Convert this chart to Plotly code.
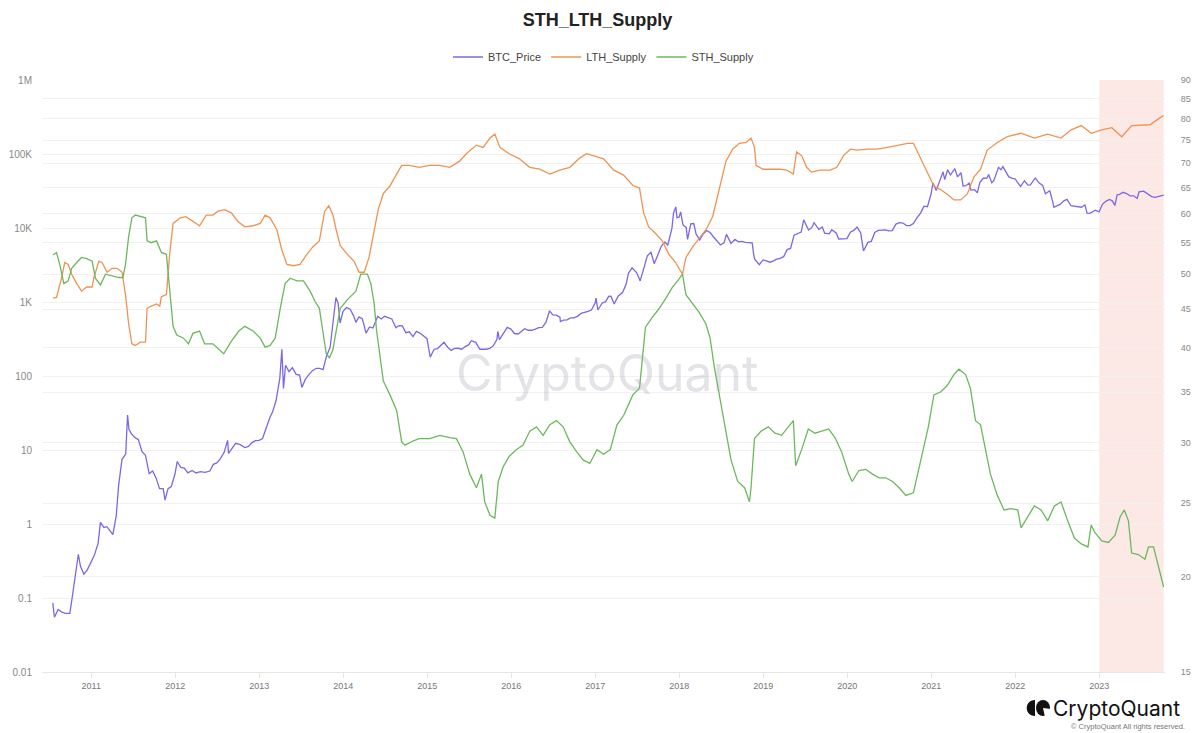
import plotly.graph_objects as go

# ---------------- data ----------------
price_dates = ["2010-07-18","2010-07-25","2010-08-10","2010-08-25","2010-09-10","2010-09-30","2010-10-10","2010-10-25","2010-11-06","2010-11-15","2010-11-30","2010-12-15","2010-12-31",
"2011-01-15","2011-01-31","2011-02-10","2011-02-25","2011-03-10","2011-03-25","2011-04-05","2011-04-20","2011-04-30","2011-05-15","2011-05-31","2011-06-08","2011-06-14","2011-06-25","2011-07-10","2011-07-25","2011-08-10","2011-08-25","2011-09-10","2011-09-25","2011-10-10","2011-10-25","2011-11-10","2011-11-18","2011-12-01","2011-12-15","2011-12-31",
"2012-01-10","2012-01-25","2012-02-10","2012-02-25","2012-03-15","2012-04-01","2012-04-20","2012-05-10","2012-05-31","2012-06-15","2012-06-30","2012-07-15","2012-08-01","2012-08-16","2012-08-20","2012-09-05","2012-09-20","2012-10-10","2012-10-30","2012-11-15","2012-11-30","2012-12-15","2012-12-31",
"2013-01-15","2013-01-31","2013-02-15","2013-02-28","2013-03-15","2013-03-31","2013-04-09","2013-04-16","2013-04-25","2013-05-10","2013-05-25","2013-06-10","2013-06-25","2013-07-05","2013-07-20","2013-08-05","2013-08-20","2013-09-05","2013-09-20","2013-10-05","2013-10-20","2013-11-05","2013-11-18","2013-11-30","2013-12-10","2013-12-18","2013-12-31",
"2014-01-15","2014-01-31","2014-02-15","2014-02-25","2014-03-10","2014-03-25","2014-04-10","2014-04-25","2014-05-10","2014-05-31","2014-06-15","2014-06-30","2014-07-15","2014-07-31","2014-08-18","2014-08-31","2014-09-15","2014-09-30","2014-10-15","2014-10-31","2014-11-15","2014-11-30","2014-12-15","2014-12-31",
"2015-01-14","2015-01-31","2015-02-15","2015-02-28","2015-03-15","2015-03-31","2015-04-15","2015-04-30","2015-05-15","2015-05-31","2015-06-15","2015-06-30","2015-07-12","2015-07-31","2015-08-18","2015-08-31","2015-09-15","2015-09-30","2015-10-15","2015-10-31","2015-11-04","2015-11-11","2015-11-25","2015-12-15","2015-12-31",
"2016-01-15","2016-01-31","2016-02-15","2016-02-29","2016-03-15","2016-03-31","2016-04-15","2016-04-30","2016-05-15","2016-05-31","2016-06-16","2016-06-30","2016-07-15","2016-07-31","2016-08-02","2016-08-15","2016-08-31","2016-09-15","2016-09-30","2016-10-15","2016-10-31","2016-11-15","2016-11-30","2016-12-15","2016-12-31",
"2017-01-04","2017-01-12","2017-01-31","2017-02-15","2017-02-28","2017-03-10","2017-03-24","2017-04-10","2017-04-30","2017-05-15","2017-05-25","2017-06-10","2017-06-30","2017-07-15","2017-07-31","2017-08-15","2017-08-31","2017-09-14","2017-09-30","2017-10-15","2017-10-31","2017-11-12","2017-11-30","2017-12-07","2017-12-17","2017-12-22","2017-12-31",
"2018-01-07","2018-01-17","2018-01-31","2018-02-06","2018-02-20","2018-03-05","2018-03-15","2018-03-31","2018-04-15","2018-04-30","2018-05-15","2018-05-31","2018-06-15","2018-06-29","2018-07-15","2018-07-25","2018-08-14","2018-08-31","2018-09-15","2018-09-30","2018-10-15","2018-10-31","2018-11-14","2018-11-20","2018-11-25","2018-12-15","2018-12-31",
"2019-01-15","2019-01-31","2019-02-15","2019-02-28","2019-03-15","2019-03-31","2019-04-15","2019-04-30","2019-05-15","2019-05-31","2019-06-15","2019-06-26","2019-07-05","2019-07-17","2019-07-31","2019-08-10","2019-08-31","2019-09-15","2019-09-25","2019-10-15","2019-10-26","2019-11-15","2019-11-25","2019-12-15","2019-12-31",
"2020-01-15","2020-01-31","2020-02-13","2020-02-29","2020-03-12","2020-03-31","2020-04-15","2020-04-30","2020-05-15","2020-05-31","2020-06-15","2020-06-30","2020-07-15","2020-07-31","2020-08-15","2020-08-31","2020-09-15","2020-09-30","2020-10-15","2020-10-31","2020-11-15","2020-11-30","2020-12-15","2020-12-31",
"2021-01-08","2021-01-22","2021-02-08","2021-02-21","2021-02-28","2021-03-13","2021-03-25","2021-04-13","2021-04-25","2021-05-10","2021-05-19","2021-05-31","2021-06-15","2021-06-22","2021-07-08","2021-07-20","2021-07-31","2021-08-15","2021-08-31","2021-09-07","2021-09-21","2021-09-30","2021-10-20","2021-10-31","2021-11-08","2021-11-20","2021-12-04","2021-12-20","2021-12-31",
"2022-01-10","2022-01-24","2022-02-10","2022-02-24","2022-03-07","2022-03-29","2022-04-15","2022-04-30","2022-05-12","2022-05-31","2022-06-13","2022-06-18","2022-06-30","2022-07-15","2022-07-31","2022-08-14","2022-08-31","2022-09-15","2022-09-30","2022-10-15","2022-10-31","2022-11-09","2022-11-21","2022-12-15","2022-12-31",
"2023-01-15","2023-01-31","2023-02-15","2023-02-28","2023-03-10","2023-03-20","2023-03-31","2023-04-14","2023-04-30","2023-05-15","2023-05-31","2023-06-15","2023-06-23","2023-07-13","2023-07-31","2023-08-17","2023-08-31","2023-09-15","2023-09-30","2023-10-08"]
btc_price = [0.086,0.055,0.07,0.065,0.062,0.062,0.1,0.2,0.39,0.27,0.21,0.24,0.3,
0.38,0.55,1.05,0.9,0.92,0.8,0.72,1.3,3.3,7.5,8.8,29.6,19,16.5,14.8,13.8,9.5,8.5,4.8,5.2,4.2,3.0,3.0,2.1,3.0,3.2,4.7,
7.0,5.8,5.7,4.9,5.3,4.9,5.1,5.0,5.2,6.4,6.7,7.6,9.3,13.5,9.0,10.8,12.3,11.8,10.8,11.2,12.6,13.4,13.5,
14.3,20,27,33,47,93,230,68,140,115,130,105,103,70,90,105,118,127,127,122,185,245,600,1150,950,520,750,
840,800,650,530,630,590,380,460,445,640,590,640,620,590,450,480,475,385,395,340,400,380,350,320,
180,230,235,255,285,245,222,236,237,230,250,263,300,285,230,230,230,236,255,310,400,310,370,455,430,
375,370,400,435,415,415,430,450,455,530,760,670,665,625,545,570,575,610,610,640,700,715,745,780,965,
1130,780,970,1010,1190,1195,940,1200,1350,1750,2450,2900,2480,1930,2870,4200,4700,3300,4340,5700,6450,5850,9900,16000,19300,13800,14000,
16500,11000,10200,7000,11400,11500,8300,6900,8300,9250,8700,7500,6500,5900,6350,8200,6200,7000,6500,6600,6400,6300,6300,4500,3800,3200,3700,
3600,3450,3600,3800,3900,4100,5100,5300,8000,8500,8800,12900,11000,9400,10100,11800,9600,10300,8500,8350,9500,8500,7100,7100,7200,
8800,9350,10300,8550,4900,6400,6600,8700,9300,9450,9450,9140,9200,11300,11800,11650,10800,10800,11500,13800,15900,19700,19400,29000,
40700,32000,46400,57500,45000,61200,52000,63500,49000,56000,37000,37300,40500,32500,33000,29800,41500,47000,47100,52700,40700,43800,66000,61300,67500,59000,49000,46700,46300,
41800,36500,43500,38300,38000,47400,40500,37700,29000,31800,22500,19000,19900,20800,23300,24400,20000,19700,19400,19100,20500,15900,15800,17400,16500,
20900,23100,24300,23100,20100,28000,28500,30400,29200,27200,27200,25100,30700,31400,29200,26600,25900,26600,27000,27900]

lth_dates = ["2010-07-19","2010-08-03","2010-08-25","2010-09-08","2010-09-23","2010-10-08","2010-10-30","2010-11-20","2010-12-12",
"2011-01-05","2011-01-12","2011-02-03","2011-02-17","2011-03-11","2011-04-02","2011-04-23","2011-05-15","2011-05-30","2011-06-13","2011-06-27","2011-07-12","2011-08-03","2011-08-25","2011-09-01","2011-09-19","2011-10-12","2011-10-26","2011-11-02","2011-11-24","2011-12-08","2011-12-23",
"2012-01-23","2012-02-17","2012-03-18","2012-04-16","2012-05-15","2012-06-13","2012-07-05","2012-08-03","2012-09-01","2012-10-01","2012-10-30","2012-12-05",
"2013-01-05","2013-01-26","2013-02-17","2013-03-18","2013-04-09","2013-05-01","2013-05-30","2013-06-27","2013-07-23","2013-08-21","2013-09-19","2013-10-12","2013-10-30","2013-11-17","2013-12-01","2013-12-19",
"2014-01-19","2014-02-17","2014-03-11","2014-04-02","2014-04-23","2014-05-15","2014-06-02","2014-06-24","2014-07-23","2014-08-21","2014-09-12","2014-10-15","2014-11-27",
"2015-01-12","2015-02-25","2015-04-09","2015-05-22","2015-06-20","2015-08-03","2015-09-01","2015-10-01","2015-10-22","2015-11-13","2015-12-23",
"2016-02-06","2016-03-22","2016-05-04","2016-06-17","2016-07-30","2016-09-12","2016-10-26","2016-11-24","2016-12-23",
"2017-02-06","2017-03-22","2017-05-04","2017-06-13","2017-07-12","2017-07-30","2017-08-21","2017-09-19","2017-10-19","2017-11-17","2017-12-16",
"2018-01-15","2018-01-30","2018-02-28","2018-03-29","2018-04-27","2018-05-26","2018-06-24","2018-07-23","2018-08-21","2018-09-19","2018-10-19","2018-11-09","2018-11-24","2018-12-01","2018-12-31",
"2019-01-30","2019-03-14","2019-04-13","2019-05-12","2019-05-26","2019-06-17","2019-07-09","2019-07-30","2019-09-04","2019-10-19","2019-11-17","2019-12-16",
"2020-01-15","2020-02-14","2020-03-29","2020-05-12","2020-06-24","2020-08-07","2020-09-20","2020-10-15","2020-11-06","2020-12-13",
"2021-01-12","2021-02-10","2021-03-11","2021-04-09","2021-05-08","2021-06-06","2021-07-05","2021-08-03","2021-09-01","2021-10-15","2021-11-27",
"2022-01-26","2022-03-25","2022-05-22","2022-07-19","2022-09-01","2022-10-15","2022-11-27",
"2023-01-12","2023-02-25","2023-04-09","2023-05-22","2023-07-05","2023-08-10","2023-09-15","2023-10-08"]
lth_supply = [46.5,46.6,49.4,51.8,51.5,50.0,48.6,47.5,48.1,
48.1,49.4,52.0,51.8,50.3,50.9,50.9,50.3,47.0,43.0,40.5,40.3,40.7,40.7,45.1,45.4,45.7,45.4,46.7,47.0,53.1,58.3,
59.3,59.5,58.6,57.9,59.8,59.8,60.5,60.8,60.2,58.6,57.7,57.9,
58.3,59.8,59.3,57.2,53.8,51.5,51.3,51.5,52.9,54.3,55.3,60.5,61.5,59.8,57.2,54.5,
53.1,52.0,50.3,50.3,52.6,57.2,60.8,63.8,65.3,67.7,69.5,69.5,69.1,
69.5,69.5,69.1,70.4,72.0,73.9,73.4,75.5,76.4,73.4,72.0,
70.9,69.1,68.7,67.7,68.5,69.1,71.1,72.0,71.6,
70.9,68.5,67.5,65.4,64.9,60.2,57.7,56.6,55.3,53.1,51.8,
50.0,52.6,54.3,55.8,57.2,59.5,64.9,70.4,73.0,74.3,74.5,75.5,73.4,69.5,68.7,
68.7,68.7,68.5,67.7,72.4,71.6,69.1,68.1,68.5,68.5,69.1,71.6,
73.0,72.8,73.0,73.0,73.4,73.9,74.3,74.3,72.0,68.5,
65.3,64.6,63.7,62.6,62.6,63.7,67.1,68.7,72.8,74.5,75.8,
76.6,75.5,76.4,75.5,77.4,78.4,76.6,
77.4,77.9,75.8,78.4,78.6,78.6,80.0,80.8]

sth_dates = ["2010-07-19","2010-08-03","2010-08-17","2010-09-04","2010-09-23","2010-10-08","2010-10-30","2010-11-20","2010-12-12",
"2011-01-05","2011-01-19","2011-02-10","2011-03-04","2011-04-02","2011-05-01","2011-05-19","2011-05-30","2011-06-13","2011-06-27","2011-07-12","2011-08-03","2011-08-25","2011-09-01","2011-09-19","2011-10-12","2011-11-02","2011-11-24","2011-12-08","2011-12-23",
"2012-01-08","2012-02-06","2012-02-28","2012-03-18","2012-04-16","2012-05-08","2012-06-13","2012-07-09","2012-07-30","2012-09-01","2012-10-04","2012-10-30","2012-12-05",
"2013-01-05","2013-01-26","2013-02-17","2013-03-11","2013-04-02","2013-04-23","2013-05-15","2013-06-13","2013-07-12","2013-08-10","2013-09-01","2013-09-19","2013-10-04","2013-10-19","2013-11-02","2013-11-17","2013-12-01","2013-12-19",
"2014-01-19","2014-02-25","2014-03-18","2014-04-16","2014-05-01","2014-05-15","2014-05-26","2014-06-09","2014-06-24","2014-07-23","2014-08-21","2014-09-12","2014-09-26","2014-11-02","2014-11-27",
"2015-01-12","2015-02-25","2015-04-09","2015-05-08","2015-06-06","2015-07-05","2015-08-03","2015-08-25","2015-09-08","2015-10-01","2015-10-22","2015-11-06","2015-11-27","2015-12-23",
"2016-01-23","2016-02-21","2016-03-22","2016-04-20","2016-05-19","2016-06-17","2016-07-16","2016-08-14","2016-09-12","2016-10-12","2016-11-09","2016-12-08",
"2017-01-08","2017-02-06","2017-03-07","2017-04-05","2017-05-04","2017-06-13","2017-07-12","2017-07-23","2017-08-07","2017-09-04","2017-10-04","2017-11-02","2017-12-01","2017-12-31",
"2018-01-15","2018-01-30","2018-02-28","2018-03-29","2018-04-27","2018-05-15","2018-06-02","2018-06-24","2018-07-16","2018-08-14","2018-09-12","2018-10-12","2018-11-02","2018-11-09","2018-11-24","2018-12-23",
"2019-01-23","2019-02-21","2019-03-22","2019-04-20","2019-05-12","2019-05-22","2019-06-17","2019-07-16","2019-08-14","2019-09-12","2019-10-12","2019-11-09","2019-12-08",
"2020-01-08","2020-01-23","2020-02-21","2020-03-22","2020-04-20","2020-05-19","2020-06-17","2020-07-16","2020-08-14","2020-09-12","2020-10-15","2020-11-06","2020-11-27","2020-12-19",
"2021-01-12","2021-02-10","2021-03-11","2021-04-09","2021-05-01","2021-05-30","2021-06-20","2021-07-12","2021-08-03","2021-08-25","2021-09-15","2021-10-15","2021-11-13","2021-12-12",
"2022-01-12","2022-01-26","2022-02-25","2022-03-25","2022-04-23","2022-05-22","2022-06-20","2022-07-19","2022-08-17","2022-09-15","2022-10-15","2022-11-13","2022-11-27","2022-12-12",
"2023-01-12","2023-02-10","2023-03-11","2023-04-02","2023-04-20","2023-05-08","2023-05-22","2023-06-20","2023-07-19","2023-08-03","2023-08-25","2023-09-15","2023-10-01","2023-10-08"]
sth_supply = [53.0,53.4,51.5,48.6,49.0,50.9,51.8,52.6,52.4,
52.0,49.4,48.4,50.0,49.8,49.5,49.5,51.5,56.1,59.3,59.8,59.5,59.3,55.3,55.0,55.3,53.4,53.1,47.5,42.7,
41.6,41.2,40.5,41.8,42.1,40.5,40.5,39.8,39.3,40.8,42.1,42.7,42.1,
41.2,40.1,40.3,41.2,45.1,48.6,49.4,49.0,49.0,47.5,46.0,45.1,42.1,39.3,38.8,39.8,42.1,45.1,
46.3,47.5,50.0,50.0,48.6,45.8,42.1,39.0,36.2,34.7,33.1,30.1,29.8,30.2,30.4,
30.4,30.7,30.5,30.4,29.2,27.3,26.2,27.3,25.1,24.1,23.9,26.7,27.9,28.8,
29.4,29.8,31.1,31.5,30.7,31.7,32.1,31.5,30.1,29.2,28.5,28.2,
29.4,29.0,29.4,31.7,32.6,34.7,35.4,38.6,42.6,43.8,45.0,46.4,48.0,49.3,
50.0,47.0,45.8,44.5,43.0,41.2,37.8,34.7,31.7,28.5,26.7,26.2,25.1,26.2,30.4,31.1,
31.5,30.9,30.7,31.5,32.1,28.0,29.4,31.3,30.9,31.1,31.3,30.5,29.2,
27.3,26.7,27.6,27.7,27.3,27.0,27.0,26.7,26.2,25.6,25.8,27.6,29.2,31.5,
34.7,35.0,35.7,36.9,37.5,36.9,35.4,32.1,31.7,29.2,27.3,25.6,24.5,24.6,
24.5,23.2,24.0,24.8,24.5,23.7,24.8,25.1,23.7,22.5,22.1,21.9,23.4,22.9,
22.3,22.2,22.7,24.0,24.5,23.7,21.5,21.4,21.1,21.9,21.9,20.7,19.7,19.4]

year_ticks = ["2011-01-01","2012-01-01","2013-01-01","2014-01-01","2015-01-01","2016-01-01","2017-01-01",
              "2018-01-01","2019-01-01","2020-01-01","2021-01-01","2022-01-01","2023-01-01"]
year_labels = ["2011","2012","2013","2014","2015","2016","2017","2018","2019","2020","2021","2022","2023"]
left_ticks = [0.01, 0.1, 1, 10, 100, 1000, 10000, 100000, 1000000]
left_labels = ["0.01", "0.1", "1", "10", "100", "1K", "10K", "100K", "1M"]
right_ticks = [15, 20, 25, 30, 35, 40, 45, 50, 55, 60, 65, 70, 75, 80, 85, 90]
highlight_start = "2023-01-01"
highlight_end = "2023-10-08"

# ---------------- figure ----------------
W, H = 1195, 733
ML, MR, MT, MB = 42, 30, 80, 61
PW, PH = W - ML - MR, H - MT - MB

def px(x):  # pixel -> paper x (for decorations only)
    return (x - ML) / PW

def py(y):
    return (H - MB - y) / PH

fig = go.Figure()
fig.add_trace(go.Scatter(x=price_dates, y=btc_price, name="BTC_Price", mode="lines",
                         line=dict(color="#7b68e6", width=1.3), yaxis="y"))
fig.add_trace(go.Scatter(x=lth_dates, y=lth_supply, name="LTH_Supply", mode="lines",
                         line=dict(color="#ef9352", width=1.3), yaxis="y2"))
fig.add_trace(go.Scatter(x=sth_dates, y=sth_supply, name="STH_Supply", mode="lines",
                         line=dict(color="#6cb85d", width=1.3), yaxis="y2"))

fig.add_shape(type="rect", xref="x", yref="paper", x0=highlight_start, x1=highlight_end,
              y0=0, y1=1, fillcolor="rgba(246,190,180,0.35)", line=dict(width=0), layer="below")

# watermark
fig.add_annotation(text="CryptoQuant", xref="paper", yref="paper", x=px(607), y=py(373),
                   showarrow=False, font=dict(family="Inter, Noto Sans, sans-serif", size=50,
                                              color="rgba(170,170,185,0.33)"))

# bottom-right logo
fig.add_annotation(text="CryptoQuant", xref="paper", yref="paper", x=px(1051), y=py(708),
                   xanchor="left", yanchor="middle", showarrow=False,
                   font=dict(family="Inter, Noto Sans, sans-serif", size=21, color="#111"))
fig.add_annotation(text="© CryptoQuant All rights reserved.", xref="paper", yref="paper",
                   x=px(1187), y=py(726), xanchor="right", yanchor="middle", showarrow=False,
                   font=dict(family="Liberation Sans, Arial, sans-serif", size=7.5, color="#777"))
# logo icon
fig.add_shape(type="path", xref="paper", yref="paper",
              path=(f"M {px(1035)} {py(700)} C {px(1024)} {py(700)}, {px(1024)} {py(716)}, {px(1035)} {py(716)} Z"),
              fillcolor="#111", line=dict(width=0))
fig.add_shape(type="circle", xref="paper", yref="paper", x0=px(1036), x1=px(1050),
              y0=py(716), y1=py(700), fillcolor="#111", line=dict(width=0))
fig.add_shape(type="path", xref="paper", yref="paper",
              path=f"M {px(1043)} {py(708)} L {px(1051)} {py(709)} L {px(1051)} {py(717)} L {px(1045)} {py(717)} Z",
              fillcolor="white", line=dict(width=0))

grid = "#f1f1f1"
tickfont = dict(family="Liberation Sans, Arial, sans-serif", size=10, color="#888")
fig.update_layout(
    width=W, height=H,
    margin=dict(l=ML, r=MR, t=MT, b=MB, autoexpand=False),
    paper_bgcolor="white", plot_bgcolor="white",
    title=dict(text="<b>STH_LTH_Supply</b>", x=0.5, xanchor="center", y=1 - 20 / H, yanchor="middle",
               font=dict(family="Liberation Sans, Arial, sans-serif", size=18, color="#222")),
    legend=dict(orientation="h", x=0.5, xanchor="center", y=py(57), yanchor="middle",
                font=dict(family="Liberation Sans, Arial, sans-serif", size=11, color="#444"),
                bgcolor="rgba(0,0,0,0)", itemwidth=30),
    showlegend=True,
    hovermode=False,
    xaxis=dict(type="date", range=["2010-06-01", "2023-10-14"], tickvals=year_ticks, ticktext=year_labels,
               showgrid=False, zeroline=False, showline=True, linecolor="#e6e6e6", linewidth=1,
               ticks="outside", ticklen=5, tickcolor="#e6e6e6", automargin=False,
               tickfont=dict(family="Liberation Sans, Arial, sans-serif", size=9, color="#777")),
    yaxis=dict(type="log", range=[-2, 6], tickvals=left_ticks, ticktext=left_labels,
               showgrid=True, gridcolor=grid, zeroline=False, showline=False, automargin=False,
               ticks="outside", ticklen=7, tickcolor="rgba(0,0,0,0)", tickfont=tickfont),
    yaxis2=dict(type="log", range=[1.17609, 1.95424], tickvals=right_ticks, overlaying="y", side="right",
                showgrid=True, gridcolor=grid, zeroline=False, showline=False, automargin=False,
                ticks="outside", ticklen=13, tickcolor="rgba(0,0,0,0)",
                tickfont=dict(family="Liberation Sans, Arial, sans-serif", size=9, color="#888")),
)

fig.write_html("out.html", config={"displayModeBar": False},
               post_script="document.body.style.margin='0';document.body.style.padding='0';")
